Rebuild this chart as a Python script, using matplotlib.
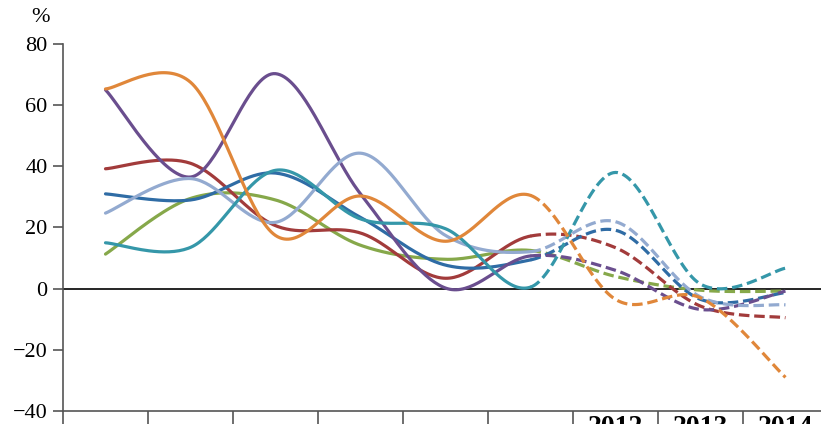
import numpy as np
import matplotlib
matplotlib.use("Agg")
import matplotlib.pyplot as plt

years = [2006, 2007, 2008, 2009, 2010, 2011, 2012, 2013, 2014]
year_labels = ["", "", "", "", "", "", "2012", "2013", "2014"]
last_actual = 2011

blue = [31.0, 29.0, 37.8, 23.3, 7.7, 9.4, 19.1, -3.5, -1.3]
red = [39.2, 41.0, 20.6, 18.2, 3.4, 17.2, 13.4, -5.7, -9.5]
green = [11.3, 29.5, 29.0, 14.2, 9.6, 12.5, 4.0, -0.5, -0.8]
purple = [65.0, 36.5, 70.3, 31.0, 0.2, 10.7, 6.0, -6.8, -0.8]
teal = [15.0, 13.5, 38.7, 22.8, 19.6, 0.5, 38.0, 1.5, 6.7]
orange = [65.3, 67.5, 17.4, 30.3, 15.5, 30.5, -3.5, -3.0, -29.0]
lightblue = [24.7, 36.0, 21.7, 44.3, 17.4, 12.1, 21.9, -2.7, -5.3]

series = [
    (green, "#86A84A"),
    (red, "#A23B3B"),
    (blue, "#2F6CA5"),
    (purple, "#6A4E8E"),
    (lightblue, "#93AAD0"),
    (teal, "#3597A9"),
    (orange, "#E0873A"),
]


def smooth(xs, ys, n=40):
    xs = np.asarray(xs, float)
    ys = np.asarray(ys, float)
    px = np.concatenate([[2 * xs[0] - xs[1]], xs, [2 * xs[-1] - xs[-2]]])
    py = np.concatenate([[ys[0]], ys, [ys[-1]]])
    outx, outy = [], []
    for i in range(1, len(px) - 2):
        p0x, p1x, p2x, p3x = px[i - 1], px[i], px[i + 1], px[i + 2]
        p0y, p1y, p2y, p3y = py[i - 1], py[i], py[i + 1], py[i + 2]
        if i == 1:
            p0x, p0y = p1x, p1y
        if i == len(px) - 3:
            p3x, p3y = p2x, p2y
        c1x = p1x + (p2x - p0x) / 6
        c1y = p1y + (p2y - p0y) / 6
        c2x = p2x - (p3x - p1x) / 6
        c2y = p2y - (p3y - p1y) / 6
        t = np.linspace(0, 1, n)
        bx = (1 - t) ** 3 * p1x + 3 * (1 - t) ** 2 * t * c1x + 3 * (1 - t) * t ** 2 * c2x + t ** 3 * p2x
        by = (1 - t) ** 3 * p1y + 3 * (1 - t) ** 2 * t * c1y + 3 * (1 - t) * t ** 2 * c2y + t ** 3 * p2y
        if i > 1:
            bx, by = bx[1:], by[1:]
        outx.append(bx)
        outy.append(by)
    return np.concatenate(outx), np.concatenate(outy)


fig = plt.figure(figsize=(8.21, 4.24), dpi=100)
ax = fig.add_axes([63 / 821, 1 - 411 / 424, 1 - 63 / 821, (411 - 44) / 424])

ax.axhline(0, color="black", lw=1.2, zorder=1)

for vals, col in series:
    sx, sy = smooth(years, vals)
    solid = sx <= last_actual + 1e-9
    dashed = sx >= last_actual - 1e-9
    ax.plot(sx[solid], sy[solid], color=col, lw=2.3, solid_capstyle="round", zorder=3)
    ax.plot(sx[dashed], sy[dashed], color=col, lw=2.3, dashes=(3.3, 1.5), zorder=3)

ax.set_ylim(-40, 80)
ax.set_yticks([-40, -20, 0, 20, 40, 60, 80])
ax.set_yticklabels(["\u221240", "\u221220", "0", "20", "40", "60", "80"],
                   family="Liberation Serif", fontsize=16)
ax.set_xlim(years[0] - 0.5, years[0] - 0.5 + (821 - 63) / 85)

ax.set_xticks([y - 0.5 for y in years])
ax.set_xticklabels([])
ax.set_xticks(years, minor=True)
ax.set_xticklabels(year_labels, minor=True, family="Liberation Serif",
                   fontweight="bold", fontsize=20)
ax.tick_params(axis="x", which="major", direction="out", length=14, width=1.2, color="#555555")
ax.tick_params(axis="x", which="minor", length=0, pad=3)
ax.tick_params(axis="y", direction="out", length=7, width=1.2, color="#555555", pad=4)

for s in ["top", "right"]:
    ax.spines[s].set_visible(False)
for s in ["left", "bottom"]:
    ax.spines[s].set_color("#555555")
    ax.spines[s].set_linewidth(1.2)

fig.text(40 / 821, 1 - 18 / 424, "%", family="Liberation Serif", fontsize=16,
         ha="center", va="center")

fig.savefig("out.png", dpi=100)
